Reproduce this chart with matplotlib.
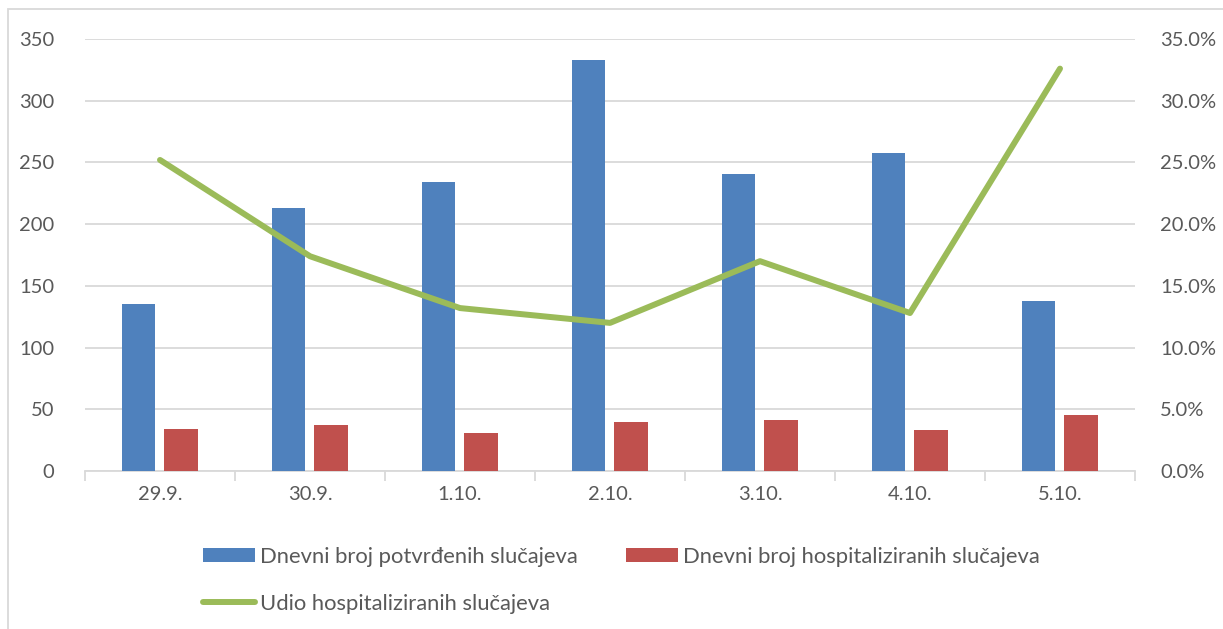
import matplotlib.pyplot as plt
import numpy as np
from matplotlib.patches import Rectangle
from matplotlib.ticker import PercentFormatter

# ================= DATA =================
dates = ["29.9.", "30.9.", "1.10.", "2.10.", "3.10.", "4.10.", "5.10."]
confirmed = [135, 213, 234, 333, 241, 258, 138]
hospitalized = [34, 37, 31, 40, 41, 33, 45]
share_pct = [25.2, 17.4, 13.2, 12.0, 17.0, 12.8, 32.6]

BLUE = "#4F81BD"
RED = "#C0504D"
GREEN = "#9BBB59"
TEXT = "#595959"
GRID = "#D9D9D9"

plt.rcParams["font.family"] = ["Lato", "DejaVu Sans"]

# ================= FIGURE =================
fig = plt.figure(figsize=(12.23, 6.29), dpi=100)
ax = fig.add_axes([85 / 1223, 1 - 471 / 629, 1050 / 1223, 432 / 629])
ax2 = ax.twinx()

x = np.arange(len(dates))
w = 0.225
b1 = ax.bar(x - 0.143, confirmed, w, color=BLUE, label="Dnevni broj potvrđenih slučajeva", zorder=3)
b2 = ax.bar(x + 0.14, hospitalized, w, color=RED, label="Dnevni broj hospitaliziranih slučajeva", zorder=3)
l1, = ax2.plot(x, share_pct, color=GREEN, lw=4.3, solid_capstyle="round",
               solid_joinstyle="round", label="Udio hospitaliziranih slučajeva")

ax.set_xlim(-0.5, len(dates) - 0.5)
ax.set_ylim(0, 350)
ax.set_yticks(range(0, 351, 50))
ax2.set_ylim(0, 35)
ax2.set_yticks(range(0, 36, 5))
ax2.yaxis.set_major_formatter(PercentFormatter(decimals=1))

ax.yaxis.grid(True, color=GRID, lw=1.3, zorder=0)
ax.set_axisbelow(True)

for a in (ax, ax2):
    for s in a.spines.values():
        s.set_visible(False)
    a.tick_params(axis="y", length=0, labelsize=14.5, labelcolor=TEXT)
ax.spines["bottom"].set_visible(True)
ax.spines["bottom"].set_color(GRID)
ax.spines["bottom"].set_linewidth(1.3)

ax.tick_params(axis="y", pad=22)
ax2.tick_params(axis="y", pad=18)

ax.set_xticks(x)
ax.set_xticklabels(dates)
ax.tick_params(axis="x", length=0, labelsize=14.5, labelcolor=TEXT, pad=11)
ax.set_xticks(np.arange(-0.5, len(dates)), minor=True)
ax.tick_params(axis="x", which="minor", length=7, color=GRID, width=1.3)

# ================= LEGEND =================
leg = fig.legend([b1, l1, b2], [b1.get_label(), l1.get_label(), b2.get_label()],
                 ncol=2, loc="upper left", bbox_to_anchor=(203 / 1223, 1 - 547 / 629),
                 frameon=False, fontsize=15.8, handlelength=2.37, handleheight=0.6,
                 handletextpad=0.23, columnspacing=2.2, labelspacing=1.21,
                 borderaxespad=0, borderpad=0)
for t in leg.get_texts():
    t.set_color(TEXT)

# outer chart border
fig.patches.append(Rectangle((8 / 1223, -0.1), 1.2, 1 - 9 / 629 + 0.1,
                             transform=fig.transFigure, fill=False,
                             edgecolor=GRID, lw=1.3))

fig.savefig("out.png", dpi=100)
